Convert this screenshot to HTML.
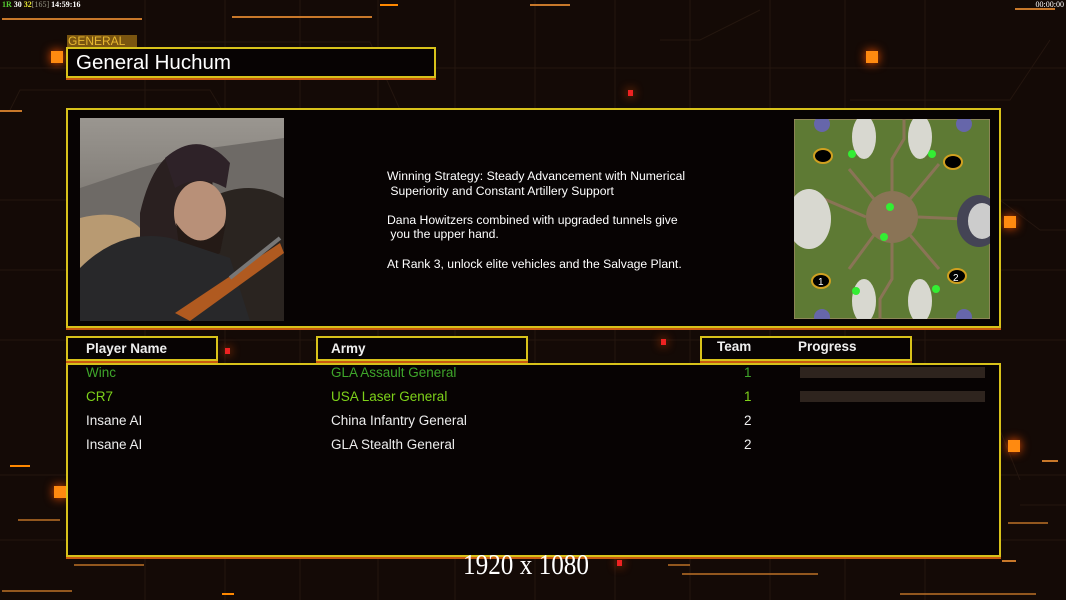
<!DOCTYPE html>
<html><head><meta charset="utf-8"><style>
*{margin:0;padding:0;box-sizing:border-box}
body{width:1066px;height:600px;overflow:hidden;background:#140a06;font-family:"Liberation Sans",Arial,sans-serif;position:relative}
.a{position:absolute}
.box{position:absolute;border:2px solid #d8c21a;background:#070303;box-shadow:0 2px 0 #c85a10}
.t{position:absolute;font-size:13.5px;color:#eee;white-space:nowrap}
.ln{position:absolute;height:2px;background:#c8782a}
.sq{position:absolute;background:#ff8a10;box-shadow:0 0 10px #f50}
.g{position:absolute;background:#2e241e}
</style></head><body>
<svg class="a" style="left:0;top:0" width="1066" height="600">
<g stroke="#24160f" stroke-width="1" fill="none">
<line x1="0" y1="68" x2="1066" y2="68"/><line x1="0" y1="200" x2="1066" y2="200"/><line x1="0" y1="270" x2="1066" y2="270"/><line x1="0" y1="340" x2="1066" y2="340"/><line x1="0" y1="475" x2="1066" y2="475"/><line x1="0" y1="540" x2="1066" y2="540"/>
<line x1="145" y1="0" x2="145" y2="600"/><line x1="225" y1="0" x2="225" y2="600"/><line x1="300" y1="0" x2="300" y2="600"/><line x1="378" y1="0" x2="378" y2="600"/><line x1="455" y1="0" x2="455" y2="600"/><line x1="535" y1="0" x2="535" y2="600"/><line x1="615" y1="0" x2="615" y2="600"/><line x1="690" y1="0" x2="690" y2="600"/><line x1="770" y1="0" x2="770" y2="600"/><line x1="845" y1="0" x2="845" y2="600"/><line x1="925" y1="0" x2="925" y2="600"/>
<polyline points="10,110 20,90 210,90 240,140"/><polyline points="190,42 370,42 440,200"/><polyline points="660,40 700,40 760,10"/><polyline points="850,100 1010,100 1050,40"/><polyline points="1000,200 1040,230 1066,230"/><polyline points="540,480 560,430"/><polyline points="1020,480 1000,430"/>
<polyline points="190,505 540,505"/><polyline points="1020,505 1280,505"/>
</g></svg>
<div class="a" style="left:2px;top:0;font-size:8px;font-family:'Liberation Serif',serif;font-weight:bold;color:#fff"><span style="color:#5c3">1R</span> 30 <span style="color:#ee3">32</span><span style="color:#998;font-weight:normal">[165]</span> 14:59:16</div>
<div class="a" style="right:2px;top:0;font-size:8px;font-family:'Liberation Serif',serif;color:#fff">00:00:00</div>
<div class="ln" style="left:2px;top:18px;width:140px"></div>
<div class="ln" style="left:232px;top:16px;width:140px"></div>
<div class="ln" style="left:380px;top:4px;width:18px;background:#f80"></div>
<div class="ln" style="left:530px;top:4px;width:40px"></div>
<div class="ln" style="left:1015px;top:8px;width:40px"></div>
<div class="ln" style="left:0;top:110px;width:22px"></div>
<div class="ln" style="left:1042px;top:460px;width:16px"></div>
<div class="ln" style="left:10px;top:465px;width:20px;background:#f80"></div>
<div class="ln" style="left:18px;top:519px;width:42px;opacity:.7"></div>
<div class="ln" style="left:1008px;top:522px;width:40px;opacity:.7"></div>
<div class="ln" style="left:74px;top:564px;width:70px;opacity:.7"></div>
<div class="ln" style="left:2px;top:590px;width:70px;opacity:.7"></div>
<div class="ln" style="left:668px;top:564px;width:22px;opacity:.7"></div>
<div class="ln" style="left:682px;top:573px;width:136px;opacity:.7"></div>
<div class="ln" style="left:900px;top:593px;width:136px;opacity:.7"></div>
<div class="ln" style="left:1002px;top:560px;width:14px"></div>
<div class="ln" style="left:222px;top:593px;width:12px;background:#f80"></div>
<div class="sq" style="left:51px;top:51px;width:12px;height:12px"></div>
<div class="sq" style="left:866px;top:51px;width:12px;height:12px"></div>
<div class="sq" style="left:1004px;top:216px;width:12px;height:12px"></div>
<div class="sq" style="left:1008px;top:440px;width:12px;height:12px"></div>
<div class="sq" style="left:54px;top:486px;width:12px;height:12px"></div>
<div class="sq" style="left:628px;top:90px;width:5px;height:6px;background:#e22"></div>
<div class="sq" style="left:225px;top:348px;width:5px;height:6px;background:#e22"></div>
<div class="sq" style="left:661px;top:339px;width:5px;height:6px;background:#e22"></div>
<div class="sq" style="left:617px;top:560px;width:5px;height:6px;background:#e22"></div>

<div class="a" style="left:67px;top:35px;width:70px;height:13px;background:#7a5510;color:#e8b830;font-size:12px;line-height:13px;padding-left:1px">GENERAL</div>
<div class="box" style="left:66px;top:47px;width:370px;height:31px"></div>
<div class="a" style="left:76px;top:51px;font-size:20.5px;color:#fff">General Huchum</div>

<div class="box" style="left:66px;top:108px;width:935px;height:220px"></div>
<svg class="a" style="left:80px;top:118px" width="204" height="203">
<defs><linearGradient id="sk" x1="0" y1="0" x2="0" y2="1"><stop offset="0" stop-color="#9a9690"/><stop offset="1" stop-color="#5a5550"/></linearGradient></defs>
<rect width="204" height="203" fill="url(#sk)"/>
<path d="M0 70 L60 50 L130 30 L204 20 L204 203 L0 203Z" fill="#6e6a66"/>
<path d="M0 100 Q40 90 60 110 L60 203 L0 203Z" fill="#b89a72"/>
<path d="M130 80 Q170 60 204 80 L204 203 L120 203Z" fill="#2a2420"/>
<path d="M60 95 Q75 30 110 30 Q140 35 130 90 L140 150 L60 150Z" fill="#2a2020"/>
<ellipse cx="120" cy="95" rx="26" ry="32" fill="#b89078"/>
<path d="M96 105 Q120 140 146 105 L140 135 Q120 145 100 135Z" fill="#241a16"/>
<path d="M85 40 Q120 10 150 45 L146 70 Q120 55 95 70Z" fill="#2e2228"/>
<path d="M0 150 Q40 110 90 120 L150 140 L170 203 L0 203Z" fill="#28282a"/>
<path d="M95 195 L200 125 L204 135 L110 203Z" fill="#b05a20"/>
<path d="M150 160 L200 120" stroke="#777" stroke-width="4"/>
</svg>
<div class="a" style="left:387px;top:169px;font-size:12.2px;line-height:14.6px;color:#fff;white-space:pre">Winning Strategy: Steady Advancement with Numerical
 Superiority and Constant Artillery Support

Dana Howitzers combined with upgraded tunnels give
 you the upper hand.

At Rank 3, unlock elite vehicles and the Salvage Plant.</div>
<svg class="a" style="left:794px;top:119px" width="196" height="200">
<rect width="196" height="200" fill="#5e7a34" stroke="#9a8a60" stroke-width="1.5"/>
<g fill="#8a7456"><circle cx="98" cy="98" r="26"/></g>
<g stroke="#8a7456" stroke-width="3" fill="none"><path d="M98 72 L98 40 L110 20 L110 0"/><path d="M98 124 L98 160 L86 180 L86 200"/><path d="M72 98 L30 80"/><path d="M124 98 L170 100"/><path d="M80 80 L55 50"/><path d="M116 116 L145 150"/><path d="M116 80 L145 45"/><path d="M80 116 L55 150"/></g>
<g fill="#d8d8d0"><ellipse cx="70" cy="18" rx="12" ry="22"/><ellipse cx="126" cy="18" rx="12" ry="22"/><ellipse cx="70" cy="182" rx="12" ry="22"/><ellipse cx="126" cy="182" rx="12" ry="22"/><ellipse cx="15" cy="100" rx="22" ry="30"/></g>
<ellipse cx="185" cy="102" rx="22" ry="26" fill="#445" /><ellipse cx="188" cy="102" rx="14" ry="18" fill="#ccc"/>
<g fill="#66a"><ellipse cx="28" cy="5" rx="8" ry="8"/><ellipse cx="170" cy="5" rx="8" ry="8"/><ellipse cx="28" cy="198" rx="8" ry="8"/><ellipse cx="170" cy="198" rx="8" ry="8"/></g>
<g fill="#000" stroke="#d0a020" stroke-width="2"><ellipse cx="29" cy="37" rx="9" ry="7"/><ellipse cx="159" cy="43" rx="9" ry="7"/><ellipse cx="27" cy="162" rx="9" ry="7"/><ellipse cx="163" cy="157" rx="9" ry="7"/></g>
<text x="24" y="166" fill="#fff" font-size="10" font-family="Liberation Sans">1</text><text x="159" y="162" fill="#fff" font-size="10" font-family="Liberation Sans">2</text>
<g fill="#3e3"><circle cx="58" cy="35" r="4"/><circle cx="138" cy="35" r="4"/><circle cx="96" cy="88" r="4"/><circle cx="90" cy="118" r="4"/><circle cx="62" cy="172" r="4"/><circle cx="142" cy="170" r="4"/></g>
</svg>

<div class="box" style="left:66px;top:336px;width:152px;height:25px"></div>
<div class="t" style="left:86px;top:341px;font-weight:bold">Player Name</div>
<div class="box" style="left:316px;top:336px;width:212px;height:25px"></div>
<div class="t" style="left:331px;top:341px;font-weight:bold">Army</div>
<div class="box" style="left:700px;top:336px;width:212px;height:25px"></div>
<div class="t" style="left:717px;top:339px;font-weight:bold">Team</div>
<div class="t" style="left:798px;top:339px;font-weight:bold">Progress</div>

<div class="box" style="left:66px;top:363px;width:935px;height:194px"></div>
<div class="t" style="left:86px;top:365px;color:#3ea52a">Winc</div>
<div class="t" style="left:331px;top:365px;color:#3ea52a">GLA Assault General</div>
<div class="t" style="left:744px;top:365px;color:#3ea52a">1</div>
<div class="g" style="left:800px;top:367px;width:185px;height:11px"></div>
<div class="t" style="left:86px;top:389px;color:#7ed21a">CR7</div>
<div class="t" style="left:331px;top:389px;color:#7ed21a">USA Laser General</div>
<div class="t" style="left:744px;top:389px;color:#7ed21a">1</div>
<div class="g" style="left:800px;top:391px;width:185px;height:11px"></div>
<div class="t" style="left:86px;top:413px">Insane AI</div>
<div class="t" style="left:331px;top:413px">China Infantry General</div>
<div class="t" style="left:744px;top:413px">2</div>
<div class="t" style="left:86px;top:437px">Insane AI</div>
<div class="t" style="left:331px;top:437px">GLA Stealth General</div>
<div class="t" style="left:744px;top:437px">2</div>

<div class="a" style="left:463px;top:550px;font-family:'Liberation Serif',serif;font-size:28px;color:#fff;transform:scaleX(.9);transform-origin:left">1920 x 1080</div>
</body></html>
